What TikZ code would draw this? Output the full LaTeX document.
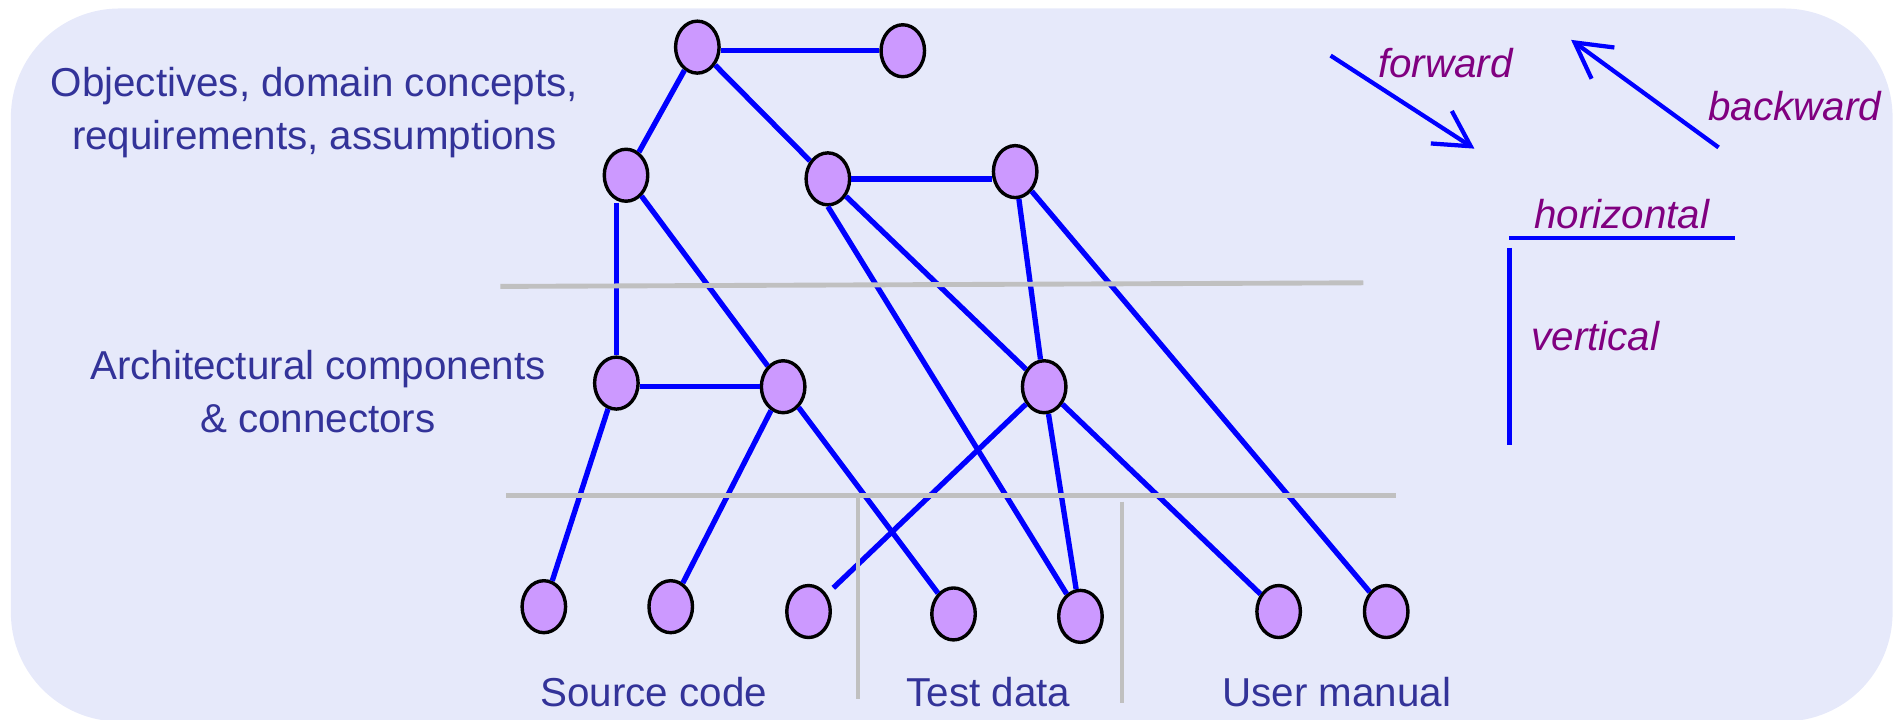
\documentclass[tikz,border=0pt]{standalone}
\usepackage{fontspec}
\setmainfont{Liberation Sans}
\usetikzlibrary{arrows.meta,shapes.geometric}

\definecolor{panelcolor}{RGB}{230,233,250}
\definecolor{itemcolor}{RGB}{204,153,255}
\definecolor{linkcolor}{RGB}{0,0,255}
\definecolor{layercolor}{RGB}{192,192,192}
\definecolor{labelcolor}{RGB}{51,51,153}
\definecolor{dircolor}{RGB}{128,0,128}

\begin{document}
\begin{tikzpicture}[x=0.2mm, y=0.2mm,
  item/.style={ellipse, draw=black, line width=1.6pt, fill=itemcolor,
    minimum width=7.2mm, minimum height=8.6mm, inner sep=0pt},
  link/.style={linkcolor, line width=2.5pt},
  layer/.style={layercolor, line width=2.3pt},
  dirline/.style={linkcolor, line width=2pt},
  layertext/.style={labelcolor, align=center, font=\fontsize{19}{25}\selectfont},
  dirtext/.style={dircolor, font=\fontsize{19}{25}\selectfont\itshape},
  dirarrow/.style={dirline, -{Straight Barb[length=5.8mm, width=6.4mm]}}]

  % Panel behind everything
  \useasboundingbox (0,0) rectangle (1568,595);
  \fill[panelcolor, rounded corners=18mm] (9,-2) rectangle (1566,588);

  % Layer names
  \node[layertext] (lblobj) at (260,502) {Objectives, domain concepts,\\requirements, assumptions};
  \node[layertext] (lblarch) at (263,271) {Architectural components\\\& connectors};
  \node[layertext] (lblsrc) at (541,22) {Source code};
  \node[layertext] (lbltest) at (818,22) {Test data};
  \node[layertext] (lbldoc) at (1106,22) {User manual};

  % Items of each layer
  \foreach \name/\x/\y in {obj1/577/556, obj2/747/553, obj3/518/450,
      obj4/685/447, obj5/840/453, arch1/510/278, arch2/648/275,
      arch3/864/275, src1/450/93, src2/555/93, src3/669/89,
      test1/789/87, test2/894/85, doc1/1058/89, doc2/1147/89} {
    \node[item] (\name) at (\x,\y) {};
  }

  % Links between items
  \draw[link] (obj1.east |- obj2) -- (obj2.west);
  \draw[link] (obj1) -- (obj3);
  \draw[link] (obj1) -- (obj4);
  \draw[link] (obj4.east) -- (obj4.east -| obj5.west);
  \draw[link] (obj3.south -| arch1) -- (arch1);
  \draw[link] (obj3) -- (arch2);
  \draw[link] (obj4) -- (arch3);
  \draw[link] (obj4.south) -- (test2);
  \draw[link] (obj5) -- (arch3);
  \draw[link] (obj5) -- (doc2);
  \draw[link] (arch1.east |- arch2) -- (arch2.west);
  \draw[link] (arch1) -- (src1);
  \draw[link] (arch2) -- (src2);
  \draw[link] (arch2) -- (test1);
  \draw[link, shorten >=1.5mm] (arch3) -- (src3);
  \draw[link] (arch3) -- (test2);
  \draw[link] (arch3) -- (doc1);

  % Layer separators, on top of the links
  \draw[layer] (414,358) -- (1128,361);
  \draw[layer] (419,185) -- (1155,185);
  \draw[layer, line width=1.9pt] (710,185) -- (710,17);
  \draw[layer, line width=1.9pt] (928,180) -- (928,13);

  % Kinds of traceability
  \coordinate (fwdstart) at (1101,549);
  \coordinate (fwdend) at (1220,472);
  \coordinate (bwdstart) at (1422,473);
  \coordinate (bwdend) at (1300,562);
  \coordinate (horleft) at (1249,398);
  \coordinate (horright) at (1436,398);
  \coordinate (vertop) at (1249,390);
  \coordinate (verbottom) at (1249,227);
  \draw[dirarrow] (fwdstart) -- (fwdend);
  \draw[dirarrow] (bwdstart) -- (bwdend);
  \draw[dirline] (horleft) -- (horright);
  \draw[dirline] (vertop) -- (verbottom);
  \node[dirtext] (lblfwd) at (1196,543) {forward};
  \node[dirtext] (lblbwd) at (1485,507) {backward};
  \node[dirtext] (lblhor) at (1342,418) {horizontal};
  \node[dirtext] (lblver) at (1320,317) {vertical};
\end{tikzpicture}
\end{document}
